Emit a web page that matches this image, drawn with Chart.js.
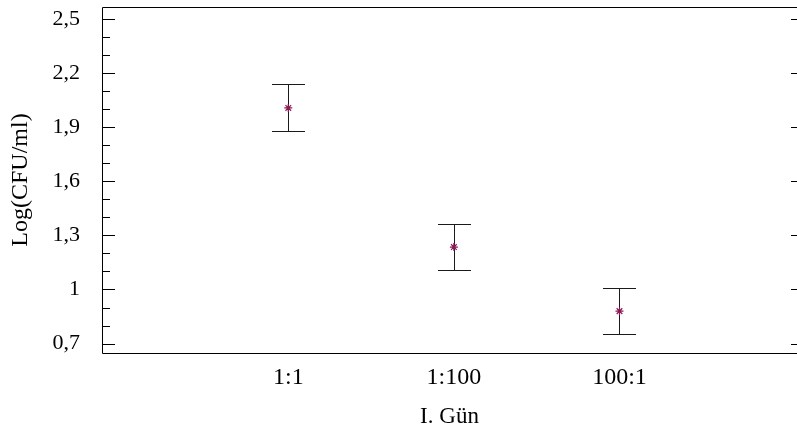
<!DOCTYPE html>
<html>
<head>
<meta charset="utf-8">
<script src="https://cdn.jsdelivr.net/npm/chart.js@4.4.1/dist/chart.umd.min.js"></script>
<style>
  html, body { margin: 0; padding: 0; background: #ffffff; }
  #wrap { width: 797px; height: 434px; position: relative; }
</style>
</head>
<body>
<div id="wrap"><canvas id="c" width="797" height="434"></canvas></div>
<script>
// ---- data ----
const categories = ["1:1", "1:100", "100:1"];
const means = [2.006, 1.235, 0.880];
const upper = [2.136, 1.363, 1.010];
const lower = [1.877, 1.106, 0.753];
const yTickValues = [0.7, 1.0, 1.3, 1.6, 1.9, 2.2, 2.5];
const yTickLabels = ["0,7", "1", "1,3", "1,6", "1,9", "2,2", "2,5"];
const yMinorValues = [0.8, 0.9, 1.1, 1.2, 1.4, 1.5, 1.7, 1.8, 2.0, 2.1, 2.3, 2.4];
const xTitle = "I. Gün";
const yTitle = "Log(CFU/ml)";

const FONT = "'Liberation Serif', 'Times New Roman', serif";

const points = means.map((m, i) => ({ x: i, y: m }));

const framePlugin = {
  id: 'frameTicks',
  afterDatasetsDraw(chart) {
    const ctx = chart.ctx;
    const a = chart.chartArea;
    const y = chart.scales.y;
    ctx.save();
    ctx.strokeStyle = '#000000';
    ctx.lineWidth = 1;
    ctx.beginPath();
    ctx.rect(a.left + 0.5, a.top + 0.5, a.right - a.left, a.bottom - a.top);
    ctx.stroke();
    ctx.beginPath();
    yTickValues.forEach(v => {
      const p = Math.round(y.getPixelForValue(v)) + 0.5;
      ctx.moveTo(a.left, p); ctx.lineTo(a.left + 13, p);
      ctx.moveTo(a.right, p); ctx.lineTo(a.right - 6, p);
    });
    yMinorValues.forEach(v => {
      const p = Math.round(y.getPixelForValue(v)) + 0.5;
      ctx.moveTo(a.left, p); ctx.lineTo(a.left + 8, p);
    });
    ctx.stroke();
    ctx.restore();
  },
  beforeDatasetsDraw(chart) {
    const ctx = chart.ctx;
    const y = chart.scales.y;
    const x = chart.scales.x;
    ctx.save();
    ctx.strokeStyle = '#1a1a1a';
    ctx.lineWidth = 1;
    ctx.beginPath();
    means.forEach((m, i) => {
      const px = Math.round(x.getPixelForValue(i)) + 0.5;
      const pt = Math.round(y.getPixelForValue(upper[i])) + 0.5;
      const pb = Math.round(y.getPixelForValue(lower[i])) + 0.5;
      ctx.moveTo(px, pt); ctx.lineTo(px, pb);
      ctx.moveTo(px - 16.5, pt); ctx.lineTo(px + 16.5, pt);
      ctx.moveTo(px - 16.5, pb); ctx.lineTo(px + 16.5, pb);
    });
    ctx.stroke();
    ctx.restore();
  }
};

new Chart(document.getElementById('c'), {
  type: 'scatter',
  data: {
    datasets: [{
      data: points,
      pointStyle: 'star',
      radius: 4,
      borderColor: '#8b1a55',
      backgroundColor: '#8b1a55',
      borderWidth: 1.2
    }]
  },
  plugins: [framePlugin],
  options: {
    responsive: false,
    animation: false,
    devicePixelRatio: 1,
    layout: { autoPadding: false, padding: { left: 0, top: 7, right: 0, bottom: 0 } },
    plugins: { legend: { display: false }, tooltip: { enabled: false } },
    scales: {
      x: {
        type: 'linear',
        min: -1.125,
        max: 3.072,
        grid: { display: false },
        border: { display: false },
        afterBuildTicks(scale) { scale.ticks = categories.map((c, i) => ({ value: i })); },
        afterFit(scale) { scale.height = 81; scale.paddingLeft = 0; scale.paddingRight = 0; },
        ticks: {
          autoSkip: false,
          maxRotation: 0,
          padding: 2,
          color: '#000000',
          font: { family: FONT, size: 24 },
          callback: (v) => categories[v]
        },
        title: {
          display: true,
          text: xTitle,
          color: '#000000',
          font: { family: FONT, size: 23 },
          padding: { top: 0, bottom: 3 }
        }
      },
      y: {
        min: 0.648,
        max: 2.565,
        grid: { display: false },
        border: { display: false },
        afterBuildTicks(scale) { scale.ticks = yTickValues.map(v => ({ value: v })); },
        afterFit(scale) { scale.width = 102; scale.paddingTop = 0; scale.paddingBottom = 0; },
        ticks: {
          padding: 14,
          color: '#000000',
          font: { family: FONT, size: 22 },
          callback: (v) => { const i = yTickValues.findIndex(t => Math.abs(t - v) < 1e-6); return i >= 0 ? yTickLabels[i] : ''; }
        },
        title: {
          display: true,
          text: yTitle,
          color: '#000000',
          font: { family: FONT, size: 24 },
          padding: { top: 6, bottom: 0 }
        }
      }
    }
  }
});
</script>
</body>
</html>
